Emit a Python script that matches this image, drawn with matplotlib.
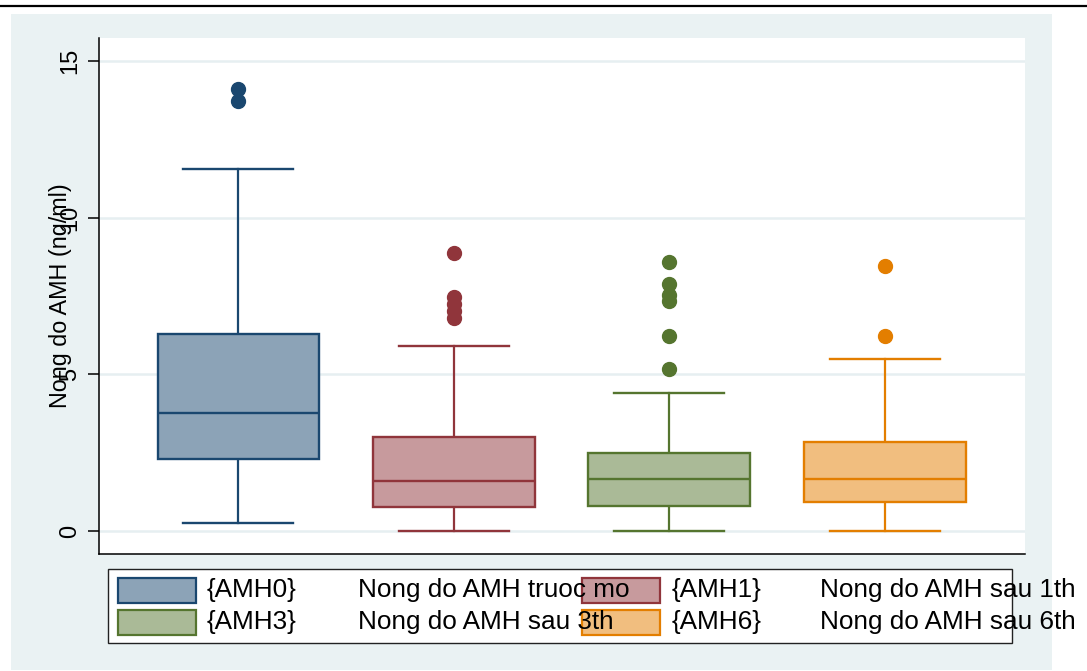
import matplotlib
matplotlib.use('Agg')
import matplotlib.pyplot as plt
from matplotlib.patches import Rectangle
from matplotlib.lines import Line2D

plt.rcParams['font.family'] = ['Liberation Sans', 'DejaVu Sans']

# AMH concentration (ng/ml) summaries per time point
groups = ['AMH0', 'AMH1', 'AMH3', 'AMH6']
descriptions = ['Nong do AMH truoc mo', 'Nong do AMH sau 1th',
                'Nong do AMH sau 3th', 'Nong do AMH sau 6th']
q1 = [2.31, 0.76, 0.81, 0.94]
med = [3.77, 1.60, 1.66, 1.66]
q3 = [6.29, 3.01, 2.48, 2.85]
whislo = [0.25, 0.0, 0.0, 0.0]
whishi = [11.54, 5.89, 4.39, 5.49]
fliers = [[14.10, 13.73],
          [8.87, 7.48, 7.25, 7.02, 6.80],
          [8.57, 7.89, 7.52, 7.33, 6.23, 5.18],
          [8.45, 6.23]]
yticks = [0, 5, 10, 15]

line_colors = ['#1A476F', '#90353B', '#55752F', '#E37E00']
fill_colors = ['#8CA3B7', '#C79A9D', '#AABA97', '#F1BE7F']

W, H = 1087, 671
fig = plt.figure(figsize=(W / 100, H / 100), dpi=100)


def fx(px):
    return px / W


def fy(py):
    return 1 - py / H


# graph region background and top rule
fig.patches.append(Rectangle((fx(11), fy(670)), fx(1052) - fx(11), fy(14) - fy(670),
                             transform=fig.transFigure, facecolor='#EAF2F3',
                             edgecolor='none', zorder=-5))
fig.add_artist(Line2D([0, 1], [fy(6), fy(6)], color='black', lw=1.6,
                      transform=fig.transFigure))

ax = fig.add_axes([fx(99), fy(554), fx(1025) - fx(99), fy(38) - fy(554)])
ax.set_facecolor('white')

positions = list(range(1, len(groups) + 1))
stats = []
for i, g in enumerate(groups):
    stats.append(dict(label=g, q1=q1[i], med=med[i], q3=q3[i],
                      whislo=whislo[i], whishi=whishi[i], fliers=fliers[i]))

bp = ax.bxp(stats, positions=positions, widths=0.75, capwidths=0.51,
            patch_artist=True, showfliers=True)

for i in range(len(groups)):
    c = line_colors[i]
    bp['boxes'][i].set(facecolor=fill_colors[i], edgecolor=c, linewidth=1.7, zorder=3)
    bp['medians'][i].set(color=c, linewidth=1.7, zorder=4)
    for k in (2 * i, 2 * i + 1):
        bp['whiskers'][k].set(color=c, linewidth=1.6)
        bp['caps'][k].set(color=c, linewidth=1.7)
    bp['fliers'][i].set(marker='o', markerfacecolor=c, markeredgecolor=c,
                        markersize=10, linestyle='none')

ax.set_xlim(0.3535, 4.651)
ax.set_ylim(-0.734, 15.734)
ax.set_xticks([])
ax.set_yticks(yticks)
ax.yaxis.grid(True, color='#E6EFF1', linewidth=1.8)
ax.set_axisbelow(True)

for s in ('top', 'right'):
    ax.spines[s].set_visible(False)
for s in ('left', 'bottom'):
    ax.spines[s].set_color('black')
    ax.spines[s].set_linewidth(1.1)

ax.tick_params(axis='y', length=8, width=1.1, direction='out', labelsize=17,
               pad=5, labelrotation=90)
for lbl in ax.get_yticklabels():
    lbl.set_va('center')

fig.text(fx(60), fy(295.5), 'Nong do AMH (ng/ml)', rotation=90,
         ha='center', va='center', fontsize=16.8)

# legend drawn by hand, two columns
fig.patches.append(Rectangle((fx(108), fy(643)), fx(1012) - fx(108), fy(569) - fy(643),
                             transform=fig.transFigure, facecolor='white',
                             edgecolor='#222222', linewidth=1.0, zorder=1))
key_x = [118, 582]
tag_x = [207, 672]
desc_x = [358, 820]
row_y = [590.5, 622]
for i, g in enumerate(groups):
    r, c = divmod(i, 2)
    fig.patches.append(Rectangle((fx(key_x[c]), fy(row_y[r] + 12.5)), fx(78), 25 / H,
                                 transform=fig.transFigure, facecolor=fill_colors[i],
                                 edgecolor=line_colors[i], linewidth=1.6, zorder=2))
    fig.text(fx(tag_x[c]), fy(row_y[r]), '{' + g + '}', ha='left', va='center',
             fontsize=18.8, zorder=3)
    fig.text(fx(desc_x[c]), fy(row_y[r]), descriptions[i], ha='left', va='center',
             fontsize=18.8, zorder=3)

fig.savefig('out.png', dpi=100)
